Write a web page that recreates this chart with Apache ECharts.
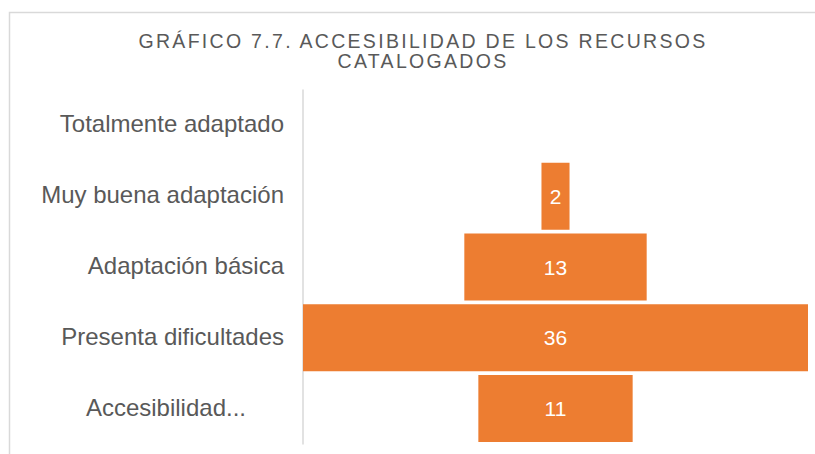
<!DOCTYPE html>
<html>
<head>
<meta charset="utf-8">
<script src="https://cdn.jsdelivr.net/npm/echarts@6/dist/echarts.min.js"></script>
<style>
  html, body { margin: 0; padding: 0; background: #ffffff; }
  #chart { width: 815px; height: 454px; }
</style>
</head>
<body>
<div id="chart"></div>
<script>
// Accessibility levels of catalogued resources (top to bottom)
const categories = [
  'Totalmente adaptado',
  'Muy buena adaptación',
  'Adaptación básica',
  'Presenta dificultades',
  'Accesibilidad...'
];
const counts = [0, 2, 13, 36, 11];
const maxCount = 36;
const titleLines = ['GRÁFICO 7.7. ACCESIBILIDAD DE LOS RECURSOS', 'CATALOGADOS'];

// Invisible spacer so each bar sits centred on the same axis (funnel look)
const spacer = counts.map(v => (maxCount - v) / 2);

const chart = echarts.init(document.getElementById('chart'), null, { renderer: 'svg' });
chart.setOption({
  animation: false,
  backgroundColor: '#ffffff',
  graphic: [{
    type: 'rect',
    shape: { x: 9.5, y: 12.5, width: 900, height: 600 },
    style: { fill: 'none', stroke: '#d9d9d9', lineWidth: 1.5 },
    silent: true
  }],
  title: {
    text: titleLines.join('\n'),
    left: 418,
    textAlign: 'center',
    top: 26,
    textStyle: {
      fontFamily: 'Liberation Sans',
      fontSize: 19.5,
      fontWeight: 'normal',
      color: '#595959',
      lineHeight: 20
    }
  },
  grid: { left: 303, right: 7, top: 90, bottom: 10, containLabel: false },
  xAxis: {
    type: 'value',
    min: 0,
    max: maxCount,
    show: false
  },
  yAxis: {
    type: 'category',
    inverse: true,
    data: categories,
    axisLine: { show: true, lineStyle: { color: '#d9d9d9', width: 1.5 } },
    axisTick: { show: false },
    axisLabel: {
      margin: 19,
      fontFamily: 'Liberation Sans',
      fontSize: 24,
      color: '#595959',
      formatter: function (v, i) {
        return (i === categories.length - 1 ? '{t|' : '{n|') + v + '}';
      },
      rich: {
        n: { fontFamily: 'Liberation Sans', fontSize: 24, color: '#595959', padding: [0, 0, 3, 0] },
        t: { fontFamily: 'Liberation Sans', fontSize: 24, color: '#595959', padding: [0, 38, 3, 0] }
      }
    }
  },
  series: [
    {
      type: 'bar',
      stack: 'funnel',
      data: spacer,
      barWidth: 67,
      itemStyle: { color: 'transparent' },
      silent: true
    },
    {
      type: 'bar',
      stack: 'funnel',
      data: counts,
      barWidth: 67,
      itemStyle: { color: '#ed7d31' },
      label: {
        show: true,
        position: 'inside',
        color: '#ffffff',
        fontFamily: 'Liberation Sans',
        fontSize: 21,
        formatter: p => (p.value ? String(p.value) : '')
      }
    }
  ]
});

// Widen the tracking of the title lines
document.querySelectorAll('#chart text').forEach(function (el) {
  if (titleLines.indexOf(el.textContent) !== -1) {
    el.style.letterSpacing = '2.3px';
  }
});
</script>
</body>
</html>
